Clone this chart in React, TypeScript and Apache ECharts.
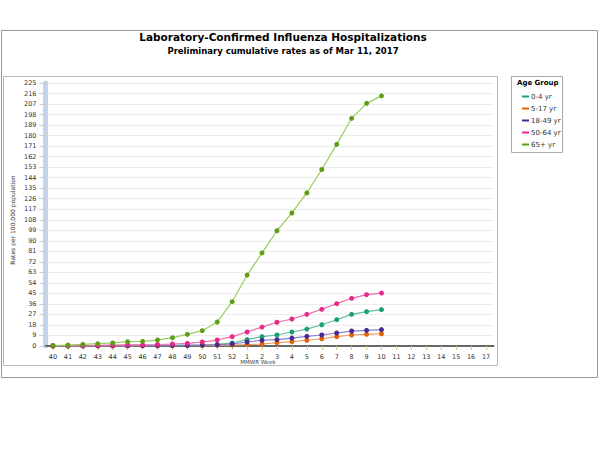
import React, { useEffect, useRef } from "react";
import * as echarts from "echarts";

const weeks = ["40","41","42","43","44","45","46","47","48","49","50","51","52","1","2","3","4","5","6","7","8","9","10","11","12","13","14","15","16","17"];
const yTicks = { min: 0, max: 225, interval: 9 };
const seriesNames = ["0-4 yr", "5-17 yr", "18-49 yr", "50-64 yr", "65+ yr"];
const age0to4 = [0.1,0.2,0.2,0.3,0.3,0.4,0.5,0.6,0.7,0.8,1.0,1.4,2.6,5.5,8,9.4,12,14.5,18.2,22.5,27.1,29.4,31.1];
const age5to17 = [0,0.1,0.1,0.1,0.1,0.1,0.2,0.2,0.2,0.3,0.4,0.6,0.8,1.2,1.7,2.8,3.7,4.9,6.2,8,9.4,10,10.5];
const age18to49 = [0.1,0.1,0.1,0.2,0.2,0.2,0.3,0.3,0.4,0.5,0.7,1.0,1.7,3.4,4.9,5.4,6.8,8.3,9.4,11.1,12.8,13.4,14];
const age50to64 = [0.2,0.3,0.4,0.5,0.7,0.9,1.0,1.3,1.7,2.3,3.4,5.1,8,12,16.2,20.3,23.1,27.1,31.4,36.2,40.8,43.9,45.3];
const age65plus = [0.3,0.8,1.4,2,2.6,3.7,4,5.1,7.1,10,13.1,20.5,37.9,60.7,79.6,98.6,113.8,131,151,172.5,194.8,207.6,214];
const seriesData = [age0to4, age5to17, age18to49, age50to64, age65plus];
const markerColors = ["#1b9e77", "#e2620a", "#4a2890", "#e7298a", "#5f9e14"];
const lineColors = ["#5fbf9f", "#f09a5c", "#8a7cc4", "#ef6aad", "#9ccb62"];

const FONT = "DejaVu Sans, Verdana, sans-serif";

export default function App() {
  const ref = useRef<HTMLDivElement>(null);
  useEffect(() => {
    if (!ref.current) return;
    const chart = echarts.init(ref.current, null, { renderer: "svg" });
    chart.setOption({
      animation: false,
      backgroundColor: "#ffffff",
      textStyle: { fontFamily: FONT },
      grid: { left: 45.5, right: 106.5, top: 83, bottom: 104, containLabel: false },
      xAxis: {
        type: "category",
        data: weeks,
        boundaryGap: true,
        axisLine: { lineStyle: { color: "#666", width: 2 } },
        axisTick: { show: true, alignWithLabel: true, length: 4, lineStyle: { color: "#c9c98f" } },
        axisLabel: { fontSize: 6.5, color: "#333", margin: 7, interval: 0, fontFamily: FONT },
        splitLine: { show: false },
      },
      yAxis: {
        type: "value",
        min: yTicks.min,
        max: yTicks.max,
        interval: yTicks.interval,
        axisLine: { show: true, lineStyle: { color: "#c3d4ea", width: 5, type: [3, 1] } },
        axisTick: { show: true, length: 6, lineStyle: { color: "#ccc" } },
        axisLabel: { fontSize: 6.5, color: "#333", margin: 9, fontFamily: FONT },
        splitLine: { show: true, lineStyle: { color: "#ececec", width: 1 } },
      },
      legend: {
        orient: "vertical",
        left: 517,
        top: 88,
        itemWidth: 7,
        itemHeight: 2,
        itemGap: 5,
        icon: "rect",
        data: seriesNames,
        textStyle: { fontSize: 7, color: "#333", fontFamily: FONT, padding: [0, 0, 0, -3] },
      },
      series: seriesNames.map((name, i) => ({
        name,
        type: "line",
        data: seriesData[i],
        symbol: "circle",
        symbolSize: 5,
        showSymbol: true,
        itemStyle: { color: markerColors[i] },
        lineStyle: { color: lineColors[i], width: 1.2 },
        z: 2 + i,
      })),
      graphic: [
        { type: "rect", shape: { x: 1.5, y: 30.5, width: 596, height: 347 }, style: { fill: "none", stroke: "#999", lineWidth: 1 }, silent: true },
        { type: "rect", shape: { x: 3.5, y: 76.5, width: 494, height: 289 }, style: { fill: "none", stroke: "#bbb", lineWidth: 1 }, silent: true },
        { type: "rect", shape: { x: 511.5, y: 76.5, width: 51, height: 76 }, style: { fill: "none", stroke: "#aaa", lineWidth: 1 }, silent: true },
        { type: "text", x: 283, y: 37, style: { text: "Laboratory-Confirmed Influenza Hospitalizations", font: "bold 10.5px " + FONT, fill: "#000", textAlign: "center", textVerticalAlign: "middle" } },
        { type: "text", x: 283, y: 51, style: { text: "Preliminary cumulative rates as of Mar 11, 2017", font: "bold 8.5px " + FONT, fill: "#000", textAlign: "center", textVerticalAlign: "middle" } },
        { type: "text", x: 517, y: 79, style: { text: "Age Group", font: "bold 7px " + FONT, fill: "#000" } },
        { type: "text", x: 258, y: 362, style: { text: "MMWR Week", font: "5.5px " + FONT, fill: "#444", textAlign: "center", textVerticalAlign: "middle" } },
        { type: "text", x: 12, y: 220, rotation: Math.PI / 2, style: { text: "Rates per 100,000 population", font: "6px " + FONT, fill: "#333", textAlign: "center", textVerticalAlign: "middle" } },
      ],
    });
    return () => chart.dispose();
  }, []);
  return <div ref={ref} style={{ position: "fixed", left: 0, top: 0, width: 600, height: 450 }} />;
}
